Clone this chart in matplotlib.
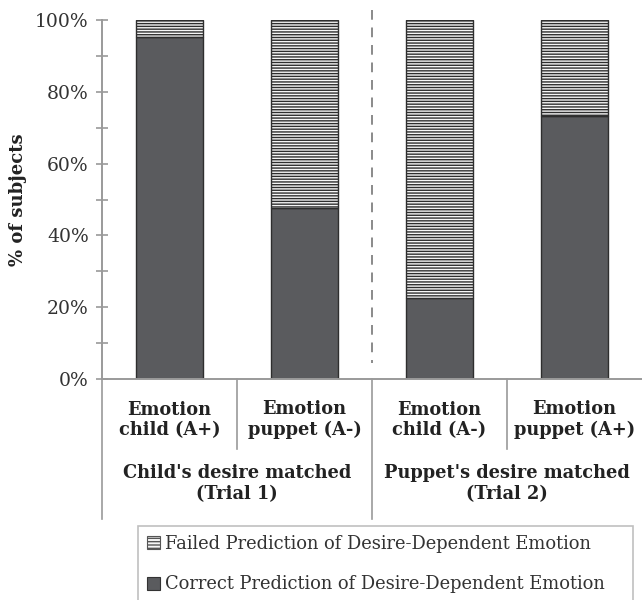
import matplotlib
matplotlib.use('Agg')
import matplotlib.pyplot as plt
from matplotlib.patches import Patch
from matplotlib.ticker import MultipleLocator, FuncFormatter

# data
categories = ['Emotion\nchild (A+)', 'Emotion\npuppet (A-)', 'Emotion\nchild (A-)', 'Emotion\npuppet (A+)']
groups = ["Child's desire matched\n(Trial 1)", "Puppet's desire matched\n(Trial 2)"]
correct = [95.2, 47.5, 22.5, 73.3]
failed = [100 - c for c in correct]

plt.rcParams['font.family'] = ['DejaVu Serif']
plt.rcParams['hatch.color'] = '#bdbdbd'
plt.rcParams['hatch.linewidth'] = 1.0

fig = plt.figure(figsize=(6.42, 6.0), dpi=100)
ax = fig.add_axes([102/642, 1 - 379/600, 540/642, 359/600])

x = list(range(len(categories)))
ax.bar(x, correct, width=0.5, color='#5a5b5e', edgecolor='#2e2e2e', linewidth=1)
ax.bar(x, failed, width=0.5, bottom=correct, color='#f6f6f6', edgecolor='#2e2e2e',
       linewidth=1, hatch='------')

ax.set_xlim(-0.5, 3.5)
ax.set_ylim(0, 100)
ax.yaxis.set_major_locator(MultipleLocator(20))
ax.yaxis.set_minor_locator(MultipleLocator(10))
ax.yaxis.set_major_formatter(FuncFormatter(lambda v, p: '%d%%' % v))
ax.tick_params(axis='y', which='both', direction='inout', length=9, width=1.2,
               color='#9a9a9a', labelsize=13.5, labelcolor='#333333', pad=5)
ax.set_xticks([])
for s in ['top', 'right']:
    ax.spines[s].set_visible(False)
for s in ['left', 'bottom']:
    ax.spines[s].set_color('#9a9a9a')
    ax.spines[s].set_linewidth(1.4)
ax.set_ylabel('% of subjects', fontsize=13, fontweight='bold', color='#222222', labelpad=6)

# dashed divider between trials
ax.plot([1.5, 1.5], [1.028, 0.045], transform=ax.get_xaxis_transform(),
        color='#8a8a8a', linestyle=(0, (5, 4)), linewidth=1.4, clip_on=False)

# category separators under the axis
tr = ax.get_xaxis_transform()
for xs, yb in [(-0.5, -0.39), (0.5, -0.195), (1.5, -0.39), (2.5, -0.195)]:
    ax.plot([xs, xs], [0, yb], transform=tr, color='#9a9a9a', linewidth=1.2, clip_on=False)

for xi, lab in zip(x, categories):
    ax.text(xi, -0.114, lab, transform=tr, ha='center', va='center', fontsize=12.8,
            fontweight='bold', color='#222222', linespacing=1.2)
for gi, lab in enumerate(groups):
    ax.text(0.5 + 2 * gi, -0.292, lab, transform=tr, ha='center', va='center', fontsize=12.8,
            fontweight='bold', color='#222222', linespacing=1.2)

handles = [Patch(facecolor='#f6f6f6', edgecolor='#555555', hatch='-----', linewidth=0.8),
           Patch(facecolor='#5a5b5e', edgecolor='#333333', linewidth=0.8)]
labels = ['Failed Prediction of Desire-Dependent Emotion',
          'Correct Prediction of Desire-Dependent Emotion']
leg = fig.legend(handles, labels, loc='lower left',
                 bbox_to_anchor=(134/642, -0.01, 503/642, 82/600), mode='expand',
                 fontsize=12.9, frameon=True, fancybox=False, handlelength=0.75,
                 handleheight=0.75, handletextpad=0.3, labelspacing=1.25, borderpad=0.5,
                 borderaxespad=0.2)
leg.get_frame().set_edgecolor('#b0b0b0')
leg.get_frame().set_linewidth(1.2)
for t in leg.get_texts():
    t.set_color('#333333')

plt.savefig('out.png', dpi=100)
